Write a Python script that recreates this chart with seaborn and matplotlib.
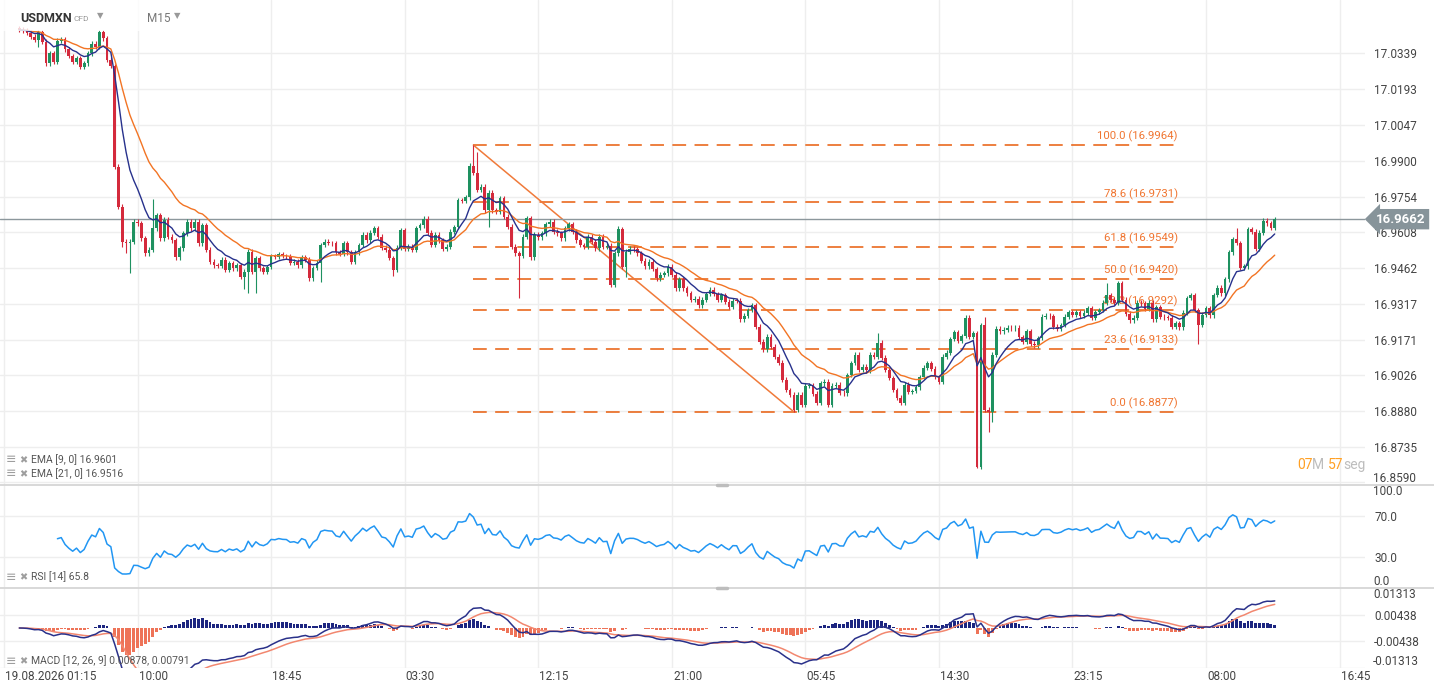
import numpy as np
import pandas as pd
import matplotlib
matplotlib.use("Agg")
import matplotlib.pyplot as plt
import seaborn as sns
from matplotlib.lines import Line2D
from matplotlib.patches import Rectangle
from matplotlib.transforms import blended_transform_factory

sns.set_theme(style="white")
plt.rcParams["font.family"] = ["Roboto", "DejaVu Sans"]

# ---------------------------------------------------------------------------
# USDMXN M15 closes (first candle = 02:15, 19.08.2026)
# ---------------------------------------------------------------------------
closes = [
    17.0433, 17.0429, 17.0421, 17.0405, 17.0392, 17.0423, 17.0385, 17.0297, 17.0338, 17.0304,
    17.0389, 17.0395, 17.0354, 17.0327, 17.0304, 17.0318, 17.0283, 17.0297, 17.0338, 17.0376,
    17.0365, 17.0423, 17.0399, 17.0311, 17.0286, 16.9876, 16.9713, 16.9570, 16.9566, 16.9570,
    16.9652, 16.9645, 16.9584, 16.9523, 16.9537, 16.9625, 16.9679, 16.9584, 16.9659, 16.9591,
    16.9577, 16.9507, 16.9543, 16.9605, 16.9652, 16.9625, 16.9652, 16.9564, 16.9638, 16.9537,
    16.9489, 16.9475, 16.9472,
    16.9496, 16.9455, 16.9482, 16.9462, 16.9475, 16.9428, 16.9448, 16.9530, 16.9448, 16.9504,
    16.9462, 16.9448, 16.9467, 16.9512, 16.9508, 16.9520, 16.9512, 16.9510, 16.9484, 16.9488,
    16.9475, 16.9508, 16.9496, 16.9421, 16.9463, 16.9484, 16.9557, 16.9570, 16.9565, 16.9563,
    16.9528, 16.9520, 16.9565, 16.9528, 16.9488, 16.9528, 16.9557, 16.9598, 16.9577, 16.9606,
    16.9626, 16.9590, 16.9545, 16.9537, 16.9504, 16.9455, 16.9545, 16.9618, 16.9541, 16.9549,
    16.9537, 16.9626, 16.9638, 16.9663, 16.9606,
    16.9557, 16.9598, 16.9577, 16.9541, 16.9549, 16.9610, 16.9630, 16.9740, 16.9738, 16.9752,
    16.9879, 16.9851, 16.9781, 16.9794, 16.9699, 16.9770, 16.9699, 16.9693, 16.9748, 16.9672,
    16.9631, 16.9550, 16.9523, 16.9512, 16.9591, 16.9666, 16.9507, 16.9598, 16.9588, 16.9605,
    16.9642, 16.9652, 16.9611, 16.9605, 16.9584, 16.9625, 16.9642, 16.9611, 16.9577, 16.9557,
    16.9550, 16.9591, 16.9570, 16.9543, 16.9591, 16.9550, 16.9553, 16.9394, 16.9523, 16.9621,
    16.9468, 16.9530, 16.9541, 16.9540,
    16.9523, 16.9493, 16.9471, 16.9489, 16.9459, 16.9422, 16.9435, 16.9442, 16.9468, 16.9435,
    16.9380, 16.9417, 16.9380, 16.9360, 16.9333, 16.9337, 16.9312, 16.9333, 16.9357, 16.9374,
    16.9357, 16.9333, 16.9353, 16.9326, 16.9305, 16.9330, 16.9329, 16.9254, 16.9268, 16.9292,
    16.9312, 16.9224, 16.9163, 16.9132, 16.9183, 16.9143, 16.9102, 16.9077, 16.9007, 16.8966,
    16.8946, 16.8885, 16.8946, 16.8905, 16.8984, 16.8986, 16.8950, 16.8914, 16.8993, 16.8999,
    16.8905, 16.8984, 16.8987, 16.8955, 16.8953,
    16.9027, 16.9076, 16.9109, 16.9048, 16.9060, 16.9047, 16.9109, 16.9101, 16.9158, 16.9097,
    16.9048, 16.9015, 16.8966, 16.8934, 16.8913, 16.8987, 16.8958, 16.8962, 16.8978, 16.9019,
    16.9056, 16.9076, 16.9052, 16.9019, 16.8999, 16.9101, 16.9117, 16.9174, 16.9202, 16.9166,
    16.9186, 16.9260, 16.9182, 16.9198, 16.8652, 16.9231, 16.8885, 16.8877, 16.9109, 16.9215,
    16.9206, 16.9211, 16.9219, 16.9218, 16.9219, 16.9182, 16.9162, 16.9206, 16.9154, 16.9149,
    16.9178, 16.9264, 16.9268, 16.9267, 16.9223, 16.9215, 16.9231,
    16.9264, 16.9284, 16.9272, 16.9284, 16.9268, 16.9280, 16.9300, 16.9260, 16.9284, 16.9292,
    16.9321, 16.9353, 16.9333, 16.9321, 16.9402, 16.9333, 16.9276, 16.9251, 16.9260, 16.9321,
    16.9320, 16.9296, 16.9321, 16.9255, 16.9304, 16.9264, 16.9263, 16.9260, 16.9223, 16.9239,
    16.9222, 16.9280, 16.9341, 16.9353, 16.9292, 16.9231, 16.9272, 16.9300, 16.9271, 16.9353,
    16.9382, 16.9361, 16.9418, 16.9528, 16.9581, 16.9565, 16.9463, 16.9470, 16.9622, 16.9610,
    16.9541, 16.9606, 16.9655, 16.9646, 16.9626, 16.9662,
]
first_open = 17.0440
first_bar_slot = 4          # 01:15 is slot 0, first visible candle is 02:15
rsi_skip = 9                # RSI needs a few bars before it settles

# wick extremes that stand out on the chart (bar number -> price)
wick_high = {35: 16.9745, 119: 16.9964, 120: 16.9937, 157: 16.9634, 225: 16.9198,
             252: 16.9240, 253: 16.9264, 285: 16.9402, 288: 16.9410, 319: 16.9626,
             329: 16.9672}
wick_low = {5: 17.0362, 27: 16.9549, 28: 16.9525, 29: 16.9443, 59: 16.9378, 60: 16.9361,
            62: 16.9361, 79: 16.9407, 98: 16.9430, 123: 16.9632, 131: 16.9341,
            155: 16.9387, 159: 16.9428, 203: 16.8877, 251: 16.8648, 252: 16.8644,
            254: 16.8795, 255: 16.8836, 309: 16.9154}
WICK_PAD = 0.0010

time_labels = ["19.08.2026 01:15", "10:00", "18:45", "03:30", "12:15", "21:00",
               "05:45", "14:30", "23:15", "08:00", "16:45"]
label_every = 35

price_ticks = [17.0339, 17.0193, 17.0047, 16.9900, 16.9754, 16.9608, 16.9462,
               16.9317, 16.9171, 16.9026, 16.8880, 16.8735, 16.8590]
price_lim = (16.8579, 17.0555)
last_price = 16.9662

fib_levels = [100.0, 78.6, 61.8, 50.0, 38.2, 23.6, 0.0]
fib_prices = [16.9964, 16.9731, 16.9549, 16.9420, 16.9292, 16.9133, 16.8877]
fib_high_bar, fib_low_bar = 119, 203
fib_end_slot = 307.6

macd_lim = 0.01313
macd_ticks = [0.00438, -0.00438]
rsi_ticks = [70, 30]

# ---------------------------------------------------------------------------
c = pd.Series(closes)
o = c.shift(1).fillna(first_open)
hi = np.maximum(o, c) + WICK_PAD
lo = np.minimum(o, c) - WICK_PAD
for k, v in wick_high.items():
    hi[k] = max(v, o[k], c[k])
for k, v in wick_low.items():
    lo[k] = min(v, o[k], c[k])
x = np.arange(len(c)) + first_bar_slot

ema9 = c.ewm(span=9, adjust=False).mean()
ema21 = c.ewm(span=21, adjust=False).mean()

delta = c.diff().iloc[1:]
avg_gain = delta.clip(lower=0).ewm(alpha=1 / 14, adjust=True).mean()
avg_loss = (-delta.clip(upper=0)).ewm(alpha=1 / 14, adjust=True).mean()
rsi = 100 - 100 / (1 + avg_gain / avg_loss)

macd = c.ewm(span=12, adjust=False).mean() - c.ewm(span=26, adjust=False).mean()
signal = macd.ewm(span=9, adjust=False).mean()
hist = macd - signal

# ---------------------------------------------------------------------------
W, H = 1434, 694
RIGHT = 1365
SLOT_PX = 3.816
X0_PX = 4
xlim = (-X0_PX / SLOT_PX, (RIGHT - X0_PX) / SLOT_PX)
AXIS_TXT = dict(fontsize=8.5, color="#444444", clip_on=False)

fig = plt.figure(figsize=(W / 100, H / 100), dpi=100)
fig.patch.set_facecolor("white")


def panel(top, bottom):
    a = fig.add_axes([0, 1 - bottom / H, RIGHT / W, (bottom - top) / H])
    a.set_xlim(*xlim)
    for s in a.spines.values():
        s.set_visible(False)
    a.set_xticks([])
    a.yaxis.tick_right()
    a.tick_params(axis="y", length=0, pad=6.5, labelsize=8.5, labelcolor="#444444")
    for i in range(len(time_labels)):
        a.axvline(i * label_every, color="#eeeeee", lw=1, zorder=0)
    return a


ax_p = panel(0, 485)
ax_r = panel(485, 588)
ax_m = panel(588, 668)

GRID = "#eeeeee"
GREEN, RED = "#1e9160", "#d42a3c"

# price panel (lowest label sits inside the panel edge)
ax_p.set_ylim(*price_lim)
ax_p.set_yticks(price_ticks[:-1])
ax_p.set_yticklabels([f"{t:.4f}" for t in price_ticks[:-1]])
for t in price_ticks:
    ax_p.axhline(t, color=GRID, lw=1, zorder=0)
tr_p = blended_transform_factory(ax_p.transAxes, ax_p.transData)
ax_p.text(1.0 + 8 / RIGHT, price_lim[0], f"{price_ticks[-1]:.4f}", transform=tr_p,
          ha="left", va="bottom", **AXIS_TXT)

fx0 = fib_high_bar + first_bar_slot
fxl = fib_low_bar + first_bar_slot
for lvl, pr in zip(fib_levels, fib_prices):
    ax_p.hlines(pr, fx0, fib_end_slot, colors="#e85d0c", lw=1.1,
                linestyles=[(0, (9, 5.5))], zorder=1.5)
    ax_p.annotate(f"{lvl:.1f} ({pr:.4f})", xy=(fib_end_slot, pr), xytext=(0, 6),
                  textcoords="offset points", ha="right", va="center",
                  color="#f07530", fontsize=8.2, zorder=1)
ax_p.plot([fx0, fxl], [fib_prices[0], fib_prices[-1]], color="#f07a3a", lw=1.1, zorder=1.5)

ax_p.axhline(last_price, color="#8c979c", lw=1, zorder=1.6)

colors = np.where(c >= o, GREEN, RED)
ax_p.vlines(x, lo, hi, colors=colors, lw=0.8, zorder=2)
body = np.maximum((c - o).abs(), 0.00025)
ax_p.bar(x, body, bottom=np.minimum(o, c), width=0.72, color=colors, linewidth=0, zorder=2.1)

ema_df = pd.DataFrame({"slot": x, "ema9": ema9, "ema21": ema21})
sns.lineplot(data=ema_df, x="slot", y="ema21", ax=ax_p, color="#f27424", lw=1.0, zorder=3)
sns.lineplot(data=ema_df, x="slot", y="ema9", ax=ax_p, color="#27318c", lw=1.0, zorder=3.1)
ax_p.set_xlabel("")
ax_p.set_ylabel("")
ax_p.set_xlim(*xlim)

# header overlay
ax_p.add_patch(Rectangle((0, 1 - 31 / 485), 250 / RIGHT, 31 / 485, transform=ax_p.transAxes,
                         facecolor="white", alpha=0.8, lw=0, zorder=5))
ax_p.text(1376 / RIGHT, last_price, f"{last_price:.4f}", transform=tr_p, ha="left",
          va="center", color="white", fontsize=9.5, fontweight="bold", clip_on=False, zorder=6,
          bbox=dict(boxstyle="larrow,pad=0.28", fc="#87949a", ec="none"))

# RSI panel
ax_r.set_ylim(0, 100)
ax_r.set_yticks(rsi_ticks)
ax_r.set_yticklabels([f"{t:.1f}" for t in rsi_ticks])
for t in rsi_ticks:
    ax_r.axhline(t, color=GRID, lw=1, zorder=0)
tr_r = blended_transform_factory(ax_r.transAxes, ax_r.transData)
ax_r.text(1.0 + 8 / RIGHT, 100, "100.0", transform=tr_r, ha="left", va="top", **AXIS_TXT)
ax_r.text(1.0 + 8 / RIGHT, 0, "0.0", transform=tr_r, ha="left", va="bottom", **AXIS_TXT)
rsi_df = pd.DataFrame({"slot": x[1:], "rsi": rsi.values}).iloc[rsi_skip:]
sns.lineplot(data=rsi_df, x="slot", y="rsi", ax=ax_r, color="#2196f3", lw=1.1, zorder=3)
ax_r.set_xlabel("")
ax_r.set_ylabel("")
ax_r.set_xlim(*xlim)

# MACD panel
ax_m.set_ylim(-macd_lim, macd_lim)
ax_m.set_yticks(macd_ticks)
ax_m.set_yticklabels([f"{t:.5f}" for t in macd_ticks])
for t in macd_ticks + [-macd_lim]:
    ax_m.axhline(t, color=GRID, lw=1, zorder=0)
tr_m = blended_transform_factory(ax_m.transAxes, ax_m.transData)
ax_m.text(1.0 + 8 / RIGHT, macd_lim, f"{macd_lim:.5f}", transform=tr_m, ha="left", va="top",
          **AXIS_TXT)
ax_m.text(1.0 + 8 / RIGHT, -macd_lim, f"{-macd_lim:.5f}", transform=tr_m, ha="left",
          va="bottom", **AXIS_TXT)
ax_m.bar(x, hist, width=0.75, color=np.where(hist >= 0, "#1c2580", "#ee7358"), linewidth=0, zorder=2)
macd_df = pd.DataFrame({"slot": x, "macd": macd, "signal": signal})
sns.lineplot(data=macd_df, x="slot", y="signal", ax=ax_m, color="#f2876f", lw=1.1, zorder=3)
sns.lineplot(data=macd_df, x="slot", y="macd", ax=ax_m, color="#2a318a", lw=1.1, zorder=3.1)
ax_m.set_xlabel("")
ax_m.set_ylabel("")
ax_m.set_xlim(*xlim)

tr_x = blended_transform_factory(ax_m.transData, ax_m.transAxes)
for i, lab in enumerate(time_labels):
    ax_m.text(i * label_every + 0.3, -9 / 80, lab, transform=tr_x, ha="left", va="center",
              **AXIS_TXT)

# panel separators and drag handles
for ypx in (485, 588):
    yf = 1 - ypx / H
    fig.add_artist(Line2D([0, 1], [yf, yf], transform=fig.transFigure, color="#d6d6d6", lw=1.3))
    fig.add_artist(Line2D([717 / W, 727 / W], [yf, yf], transform=fig.transFigure,
                          color="#bdbdbd", lw=2.5))


def ftext(xpx, ypx, s, **kw):
    fig.text(xpx / W, 1 - ypx / H, s, va="center", ha="left", **kw)


# header
ftext(20, 18, "USDMXN", fontsize=9, fontweight="bold", color="#333333")
ftext(74, 19, "CFD", fontsize=6, color="#999999")
ftext(97, 16, "▼", fontsize=6, color="#999999")
ftext(147, 19, "M15", fontsize=8.5, color="#777777")
ftext(174, 16, "▼", fontsize=6, color="#999999")

# indicator legends
legend_rows = [(460, "EMA [9, 0] 16.9601"), (474, "EMA [21, 0] 16.9516"),
               (577, "RSI [14] 65.8"), (661, "MACD [12, 26, 9] 0.00878, 0.00791")]
for ypx, s in legend_rows:
    ftext(6, ypx, "≡", fontsize=9, color="#9e9e9e")
    ftext(19, ypx, "✖", fontsize=7, color="#9e9e9e")
    ftext(31, ypx, s, fontsize=7.5, color="#555555")

# candle countdown
for xpx, s, col in [(1297, "07", "#ffa024"), (1312, "M", "#bdbdbd"),
                    (1328, "57", "#ffa024"), (1343, "seg", "#bdbdbd")]:
    ftext(xpx, 465, s, fontsize=10, color=col)

fig.savefig("out.png", dpi=100, facecolor="white")
